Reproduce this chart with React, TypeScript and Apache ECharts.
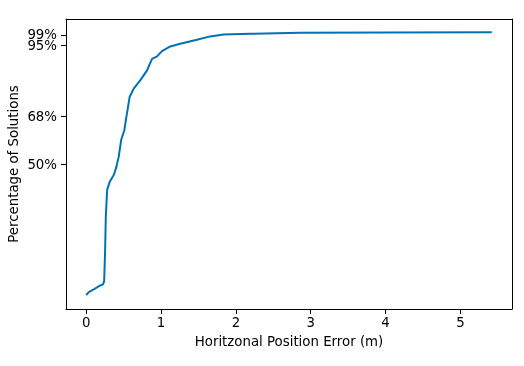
import React, { useEffect, useRef } from "react";
import * as echarts from "echarts";

const errorsM = [0.0, 0.035, 0.1, 0.17, 0.226, 0.24, 0.253, 0.262, 0.28, 0.315, 0.37, 0.404, 0.435, 0.467, 0.51, 0.537, 0.58, 0.635, 0.724, 0.813, 0.88, 0.947, 1.013, 1.124, 1.257, 1.48, 1.657, 1.835, 2.19, 2.857, 4.0, 5.42];
const percentages = [0.3, 1.4, 2.4, 3.7, 4.4, 5.6, 17.5, 30.1, 40.2, 43.3, 45.9, 49.0, 52.8, 59.1, 62.9, 67.9, 75.4, 78.6, 81.8, 85.5, 89.9, 90.8, 92.8, 94.6, 95.6, 97.1, 98.4, 99.1, 99.4, 99.8, 99.9, 100.0];
const xTicks = [0, 1, 2, 3, 4, 5];
const yTicks = [50, 68, 95];
const yTicksTop = [99];

export default function App() {
  const ref = useRef<HTMLDivElement>(null);
  useEffect(() => {
    if (!ref.current) return;
    const chart = echarts.init(ref.current, undefined, { renderer: "svg" });
    const font = "DejaVu Sans";
    const fs = 13.33;
    const frameLine = { show: true, onZero: false, lineStyle: { color: "#000", width: 1 } };
    const hidden = { axisTick: { show: false }, axisLabel: { show: false }, splitLine: { show: false } };
    const yLabel = (vals: number[]) => ({
      fontFamily: font, fontSize: fs, color: "#000", margin: 9, customValues: vals, hideOverlap: false,
      formatter: (v: number) => `${v}%`,
    });
    chart.setOption({
      animation: false,
      grid: { left: 66, top: 19, right: 12, bottom: 57, containLabel: false, outerBoundsMode: "none" },
      xAxis: [
        {
          type: "value",
          min: -0.27,
          max: 5.69,
          name: "Horitzonal Position Error (m)",
          nameLocation: "middle",
          nameGap: 26,
          nameMoveOverlap: false,
          nameTextStyle: { fontFamily: font, fontSize: fs, color: "#000" },
          axisLine: frameLine,
          axisTick: { show: true, length: 5, lineStyle: { color: "#000" }, customValues: xTicks },
          axisLabel: { fontFamily: font, fontSize: fs, color: "#000", margin: 7, customValues: xTicks, hideOverlap: false },
          splitLine: { show: false },
        },
        { type: "value", position: "top", min: -0.27, max: 5.69, axisLine: frameLine, ...hidden },
      ],
      yAxis: [
        {
          type: "value",
          min: -5,
          max: 105,
          name: "Percentage of Solutions",
          nameLocation: "middle",
          nameGap: 46,
          nameMoveOverlap: false,
          nameTextStyle: { fontFamily: font, fontSize: fs, color: "#000" },
          axisLine: frameLine,
          axisTick: { show: true, length: 5, lineStyle: { color: "#000" }, customValues: yTicks },
          axisLabel: yLabel(yTicks),
          splitLine: { show: false },
        },
        { type: "value", position: "right", min: -5, max: 105, axisLine: frameLine, ...hidden },
        {
          type: "value",
          position: "left",
          min: -5,
          max: 105,
          axisLine: { show: false, onZero: false },
          axisTick: { show: true, length: 5, lineStyle: { color: "#000" }, customValues: yTicksTop },
          axisLabel: yLabel(yTicksTop),
          splitLine: { show: false },
        },
      ],
      series: [
        {
          type: "line",
          data: errorsM.map((x, i) => [x, percentages[i]]),
          showSymbol: false,
          lineStyle: { color: "#0072b2", width: 2 },
          itemStyle: { color: "#0072b2" },
        },
      ],
    });
    return () => chart.dispose();
  }, []);
  return <div ref={ref} style={{ position: "fixed", left: 0, top: 0, width: 524, height: 366 }} />;
}
